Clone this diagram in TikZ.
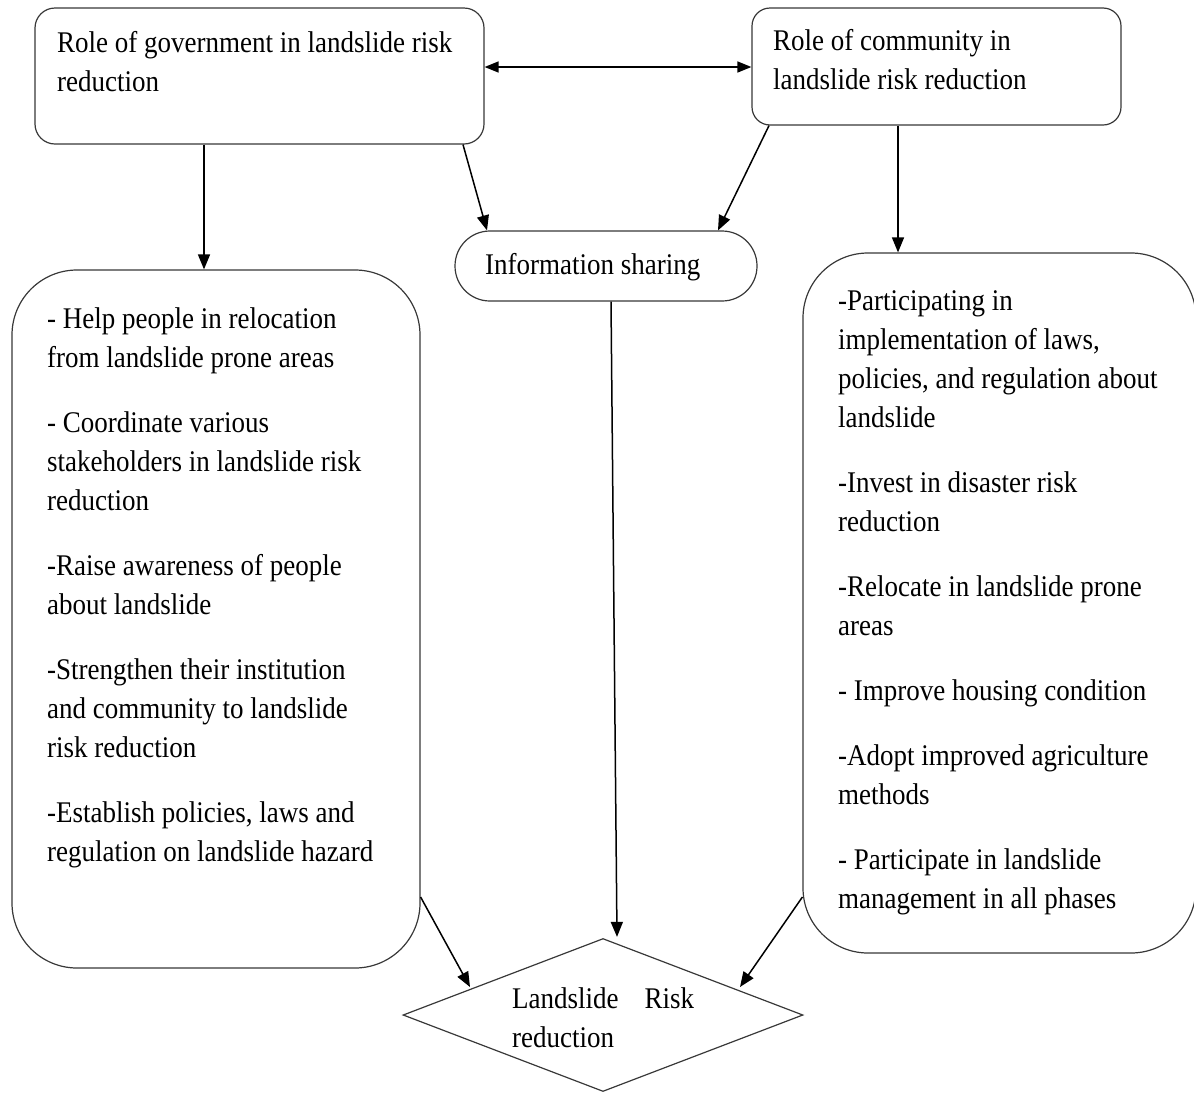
\documentclass[tikz,border=0pt]{standalone}
\usepackage{fontspec}
\setmainfont{Liberation Serif}[FakeStretch=0.9]
\usetikzlibrary{shapes.geometric,arrows.meta,calc}
\begin{document}
\begin{tikzpicture}[x=1pt,y=-1pt,
  box/.style={draw=black!78, line width=1.2pt, inner sep=0pt},
  txt/.style={anchor=north west, inner sep=0pt, align=left, font=\fontsize{30}{39}\selectfont},
  arr/.style={line width=1.5pt, -{Triangle[length=15pt,width=12pt]}},
  darr/.style={line width=1.5pt, {Triangle[length=14pt,width=11pt]}-{Triangle[length=14pt,width=11pt]}}
]
\useasboundingbox (0,0) rectangle (1194,1093);

% boxes
\node[box, rounded corners=20pt, minimum width=449pt, minimum height=136pt] (gov) at (259.5,76) {};
\node[box, rounded corners=18pt, minimum width=369pt, minimum height=117pt] (comm) at (936.5,66.5) {};
\node[box, rounded corners=34.9pt, minimum width=302pt, minimum height=70pt] (info) at (606,266) {};
\node[box, rounded corners=65pt, minimum width=408pt, minimum height=698pt] (lbox) at (216,619) {};
\node[box, rounded corners=65pt, minimum width=393pt, minimum height=700pt] (rbox) at (999.5,603) {};
\node[box, diamond, minimum width=400pt, minimum height=153pt] (dia) at (603,1015) {};

% texts
\node[txt] (govtxt) at (57,30) {\rule{0pt}{22pt}Role of government in landslide risk\\reduction};
\node[txt] (commtxt) at (773,28) {\rule{0pt}{22pt}Role of community in\\landslide risk reduction};
\node[txt] (infotxt) at (485,252) {\rule{0pt}{22pt}Information sharing};
\node[txt] (ltxt) at (47,306) {\rule{0pt}{22pt}- Help people in relocation\\from landslide prone areas\\[26pt]
- Coordinate various\\stakeholders in landslide risk\\reduction\\[26pt]
-Raise awareness of people\\about landslide\\[26pt]
-Strengthen their institution\\and community to landslide\\risk reduction\\[26pt]
-Establish policies, laws and\\regulation on landslide hazard};
\node[txt] (rtxt) at (838,288) {\rule{0pt}{22pt}-Participating in\\implementation of laws,\\policies, and regulation about\\landslide\\[26pt]
-Invest in disaster risk\\reduction\\[26pt]
-Relocate in landslide prone\\areas\\[26pt]
- Improve housing condition\\[26pt]
-Adopt improved agriculture\\methods\\[26pt]
- Participate in landslide\\management in all phases};
\node[txt] (diatxt) at (512,986) {\rule{0pt}{22pt}Landslide\hspace{26pt}Risk\\reduction};

% connectors
\draw[darr] ($(gov.east)+(0,-9)$) -- ($(comm.west)+(0,0.5)$);
\draw[arr] ($(gov.south)+(-55.5,0)$) -- ($(lbox.north)+(-12,0)$);
\draw[arr] ($(gov.south)+(203.5,0)$) -- ($(info.north)+(-119,0)$);
\draw[arr] ($(comm.south)+(-167.5,0)$) -- ($(info.north)+(112,0)$);
\draw[arr] ($(comm.south)+(-38.5,0)$) -- ($(rbox.north)+(-101.5,0)$);
\draw[arr] ($(info.south)+(5,0)$) -- ($(dia.north)+(14,-1)$);
\draw[arr] ($(lbox.east)+(0,278)$) -- ($(dia.center)+(-133,-28)$);
\draw[arr] ($(rbox.west)+(0,294)$) -- ($(dia.center)+(137,-28)$);
\end{tikzpicture}
\end{document}
